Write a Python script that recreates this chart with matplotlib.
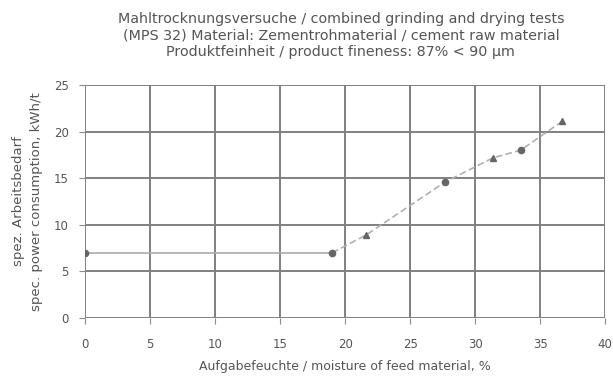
import matplotlib.pyplot as plt

# data
x_flat = [0, 19]
y_flat = [7, 7]

x_circ = [0, 19, 27.7, 33.5]
y_circ = [7, 7, 14.6, 18.0]

x_tri = [21.6, 31.4, 36.7]
y_tri = [8.9, 17.2, 21.1]

x_trend = [19, 21.6, 27.7, 31.4, 33.5, 36.7]
y_trend = [7, 8.9, 14.6, 17.2, 18.0, 21.1]

title = ('Mahltrocknungsversuche / combined grinding and drying tests\n'
         '(MPS 32) Material: Zementrohmaterial / cement raw material\n'
         'Produktfeinheit / product fineness: 87% < 90 µm')

txt = '#555555'
plt.rcParams.update({'font.family': 'DejaVu Sans', 'font.size': 8})

fig = plt.figure(figsize=(6.13, 3.76), dpi=100)
ax = fig.add_axes([0.139, 0.154, 0.848, 0.620])

ax.plot(x_flat, y_flat, '-', color='#aaaaaa', lw=1.2, zorder=3)
ax.plot(x_trend, y_trend, '--', color='#b0b0b0', lw=1.2, dashes=(4, 2), zorder=3)
ax.plot(x_circ, y_circ, 'o', color='#666666', ms=4.5, zorder=4)
ax.plot(x_tri, y_tri, '^', color='#666666', ms=5, zorder=4)

ax.set_xlim(0, 40)
ax.set_ylim(0, 25)
ax.set_xticks(range(0, 41, 5))
ax.set_yticks(range(0, 26, 5))
ax.grid(True, color='#808080', lw=1.4)
ax.set_axisbelow(True)
for s in ax.spines.values():
    s.set_visible(False)
ax.tick_params(colors='#8a8a8a', labelcolor=txt, length=4, labelsize=8.5)
ax.tick_params(axis='x', pad=10)
ax.tick_params(axis='y', pad=8)

ax.set_xlabel('Aufgabefeuchte / moisture of feed material, %', color=txt, fontsize=9, labelpad=7)
ax.set_ylabel('spez. Arbeitsbedarf\nspec. power consumption, kWh/t', color=txt, fontsize=9.5,
              labelpad=8, linespacing=1.5)
fig.text(0.556, 0.968, title, ha='center', va='top', color=txt, fontsize=10.3, linespacing=1.22)

fig.savefig('out.png', dpi=100)
